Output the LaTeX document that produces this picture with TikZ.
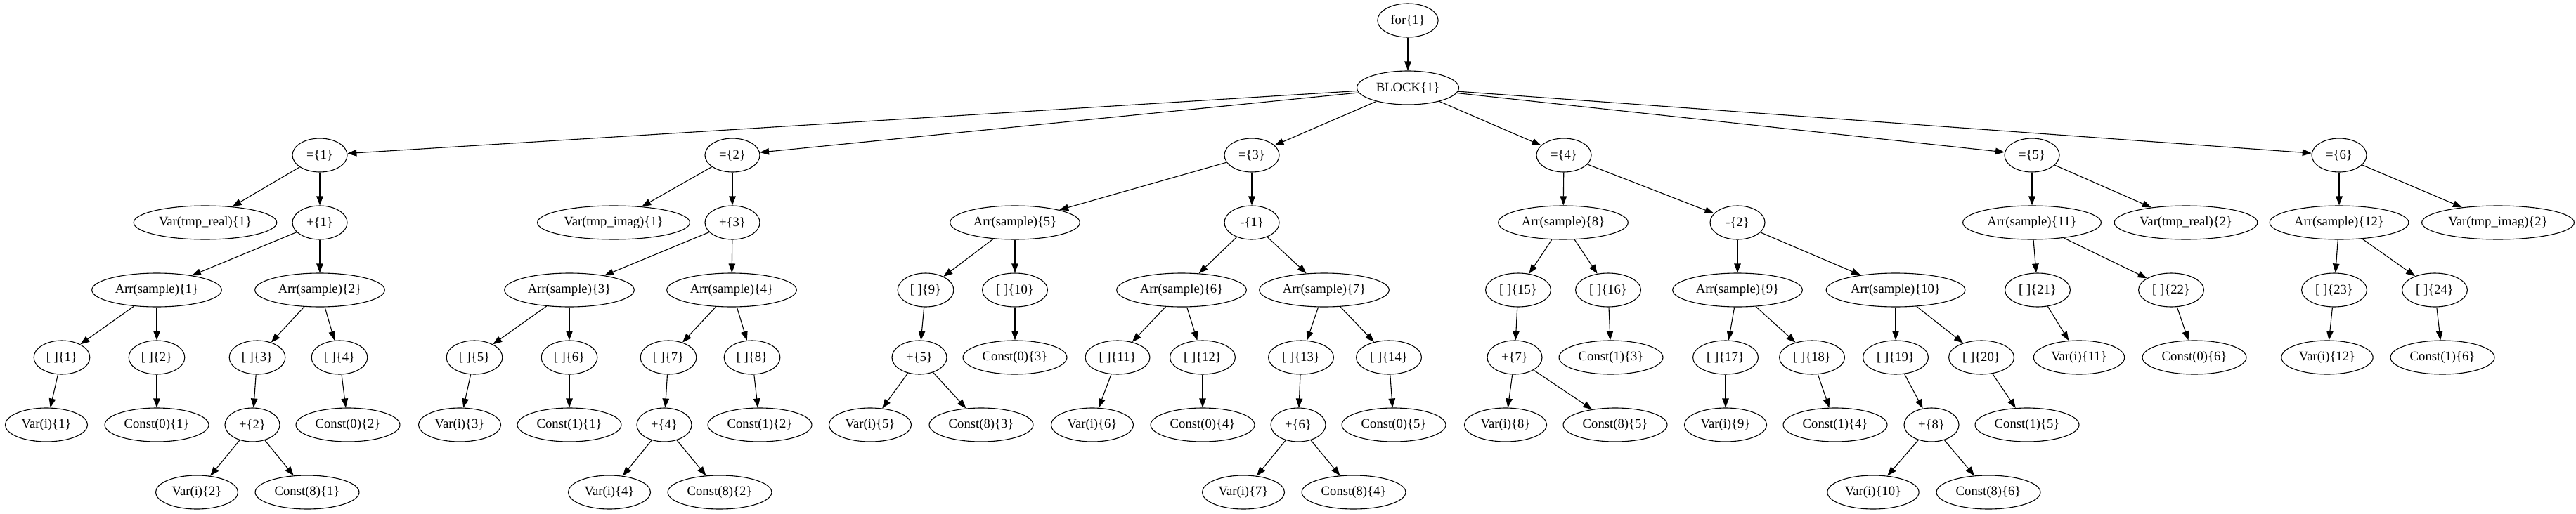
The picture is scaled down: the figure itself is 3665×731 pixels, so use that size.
\documentclass[tikz,border=0pt]{standalone}
\usepackage{fontspec}
\setmainfont{Liberation Serif}
\usepackage{tikz}
\usetikzlibrary{shapes.geometric,arrows.meta}
\tikzset{gvnode/.style={draw, ellipse, line width=1.1pt, inner xsep=6pt,
  minimum width=78pt, minimum height=48pt,
  font=\fontsize{18.67}{22}\selectfont}}
\tikzset{gvedge/.style={line width=1.1pt,
  -{Triangle[length=13pt,width=9.5pt]}}}

\begin{document}
\begin{tikzpicture}[x=1pt, y=-1pt]
\useasboundingbox[fill=white] (0,0) rectangle (3665,731);

% top
\node[gvnode] (for1) at (2003, 29) {for\{1\}};
\node[gvnode] (block1) at (2003, 125) {BLOCK\{1\}};

% first assignment
\node[gvnode] (eq1) at (455, 221) {=\{1\}};
\node[gvnode] (vreal1) at (292, 317) {Var(tmp\_real)\{1\}};
\node[gvnode] (plus1) at (455, 317) {+\{1\}};
\node[gvnode] (arr1) at (223, 413) {Arr(sample)\{1\}};
\node[gvnode] (arr2) at (455, 413) {Arr(sample)\{2\}};
\node[gvnode] (idx1) at (88, 509) {[ ]\{1\}};
\node[gvnode] (idx2) at (223, 509) {[ ]\{2\}};
\node[gvnode] (idx3) at (366, 509) {[ ]\{3\}};
\node[gvnode] (idx4) at (483, 509) {[ ]\{4\}};
\node[gvnode] (vi1) at (66, 605) {Var(i)\{1\}};
\node[gvnode] (czero1) at (223, 605) {Const(0)\{1\}};
\node[gvnode] (plus2) at (359, 605) {+\{2\}};
\node[gvnode] (czero2) at (495, 605) {Const(0)\{2\}};
\node[gvnode] (vi2) at (280, 701) {Var(i)\{2\}};
\node[gvnode] (ceight1) at (437, 701) {Const(8)\{1\}};

% second assignment
\node[gvnode] (eq2) at (1042, 221) {=\{2\}};
\node[gvnode] (vimag1) at (873, 317) {Var(tmp\_imag)\{1\}};
\node[gvnode] (plus3) at (1042, 317) {+\{3\}};
\node[gvnode] (arr3) at (810, 413) {Arr(sample)\{3\}};
\node[gvnode] (arr4) at (1041, 413) {Arr(sample)\{4\}};
\node[gvnode] (idx5) at (675, 509) {[ ]\{5\}};
\node[gvnode] (idx6) at (810, 509) {[ ]\{6\}};
\node[gvnode] (idx7) at (951, 509) {[ ]\{7\}};
\node[gvnode] (idx8) at (1070, 509) {[ ]\{8\}};
\node[gvnode] (vi3) at (654, 605) {Var(i)\{3\}};
\node[gvnode] (cone1) at (810, 605) {Const(1)\{1\}};
\node[gvnode] (plus4) at (945, 605) {+\{4\}};
\node[gvnode] (cone2) at (1081, 605) {Const(1)\{2\}};
\node[gvnode] (vi4) at (867, 701) {Var(i)\{4\}};
\node[gvnode] (ceight2) at (1024, 701) {Const(8)\{2\}};

% third assignment
\node[gvnode] (eq3) at (1781, 221) {=\{3\}};
\node[gvnode] (arr5) at (1444, 317) {Arr(sample)\{5\}};
\node[gvnode] (minus1) at (1781, 317) {-\{1\}};
\node[gvnode] (idx9) at (1317, 413) {[ ]\{9\}};
\node[gvnode] (idx10) at (1444, 413) {[ ]\{10\}};
\node[gvnode] (plus5) at (1308, 509) {+\{5\}};
\node[gvnode] (czero3) at (1444, 509) {Const(0)\{3\}};
\node[gvnode] (vi5) at (1238, 605) {Var(i)\{5\}};
\node[gvnode] (ceight3) at (1396, 605) {Const(8)\{3\}};
\node[gvnode] (arr6) at (1681, 413) {Arr(sample)\{6\}};
\node[gvnode] (arr7) at (1884, 413) {Arr(sample)\{7\}};
\node[gvnode] (idx11) at (1590, 509) {[ ]\{11\}};
\node[gvnode] (idx12) at (1711, 509) {[ ]\{12\}};
\node[gvnode] (idx13) at (1851, 509) {[ ]\{13\}};
\node[gvnode] (idx14) at (1976, 509) {[ ]\{14\}};
\node[gvnode] (vi6) at (1554, 605) {Var(i)\{6\}};
\node[gvnode] (czero4) at (1711, 605) {Const(0)\{4\}};
\node[gvnode] (plus6) at (1847, 605) {+\{6\}};
\node[gvnode] (czero5) at (1983, 605) {Const(0)\{5\}};
\node[gvnode] (vi7) at (1769, 701) {Var(i)\{7\}};
\node[gvnode] (ceight4) at (1926, 701) {Const(8)\{4\}};

% fourth assignment
\node[gvnode] (eq4) at (2225, 221) {=\{4\}};
\node[gvnode] (arr8) at (2224, 317) {Arr(sample)\{8\}};
\node[gvnode] (minus2) at (2472, 317) {-\{2\}};
\node[gvnode] (idx15) at (2160, 413) {[ ]\{15\}};
\node[gvnode] (idx16) at (2288, 413) {[ ]\{16\}};
\node[gvnode] (plus7) at (2155, 509) {+\{7\}};
\node[gvnode] (cone3) at (2292, 509) {Const(1)\{3\}};
\node[gvnode] (vi8) at (2142, 605) {Var(i)\{8\}};
\node[gvnode] (ceight5) at (2298, 605) {Const(8)\{5\}};
\node[gvnode] (arr9) at (2472, 413) {Arr(sample)\{9\}};
\node[gvnode] (arr10) at (2697, 413) {Arr(sample)\{10\}};
\node[gvnode] (idx17) at (2455, 509) {[ ]\{17\}};
\node[gvnode] (idx18) at (2578, 509) {[ ]\{18\}};
\node[gvnode] (idx19) at (2697, 509) {[ ]\{19\}};
\node[gvnode] (idx20) at (2819, 509) {[ ]\{20\}};
\node[gvnode] (vi9) at (2455, 605) {Var(i)\{9\}};
\node[gvnode] (cone4) at (2611, 605) {Const(1)\{4\}};
\node[gvnode] (plus8) at (2748, 605) {+\{8\}};
\node[gvnode] (cone5) at (2884, 605) {Const(1)\{5\}};
\node[gvnode] (vi10) at (2665, 701) {Var(i)\{10\}};
\node[gvnode] (ceight6) at (2829, 701) {Const(8)\{6\}};

% fifth assignment
\node[gvnode] (eq5) at (2891, 221) {=\{5\}};
\node[gvnode] (arr11) at (2891, 317) {Arr(sample)\{11\}};
\node[gvnode] (vreal2) at (3110, 317) {Var(tmp\_real)\{2\}};
\node[gvnode] (idx21) at (2899, 413) {[ ]\{21\}};
\node[gvnode] (idx22) at (3089, 413) {[ ]\{22\}};
\node[gvnode] (vi11) at (2958, 509) {Var(i)\{11\}};
\node[gvnode] (czero6) at (3122, 509) {Const(0)\{6\}};

% sixth assignment
\node[gvnode] (eq6) at (3328, 221) {=\{6\}};
\node[gvnode] (arr12) at (3328, 317) {Arr(sample)\{12\}};
\node[gvnode] (vimag2) at (3554, 317) {Var(tmp\_imag)\{2\}};
\node[gvnode] (idx23) at (3321, 413) {[ ]\{23\}};
\node[gvnode] (idx24) at (3464, 413) {[ ]\{24\}};
\node[gvnode] (vi12) at (3311, 509) {Var(i)\{12\}};
\node[gvnode] (cone6) at (3475, 509) {Const(1)\{6\}};

% edges
\draw[gvedge] (for1) -- (block1);
\draw[gvedge] (block1) -- (eq1);
\draw[gvedge] (block1) -- (eq2);
\draw[gvedge] (block1) -- (eq3);
\draw[gvedge] (block1) -- (eq4);
\draw[gvedge] (block1) -- (eq5);
\draw[gvedge] (block1) -- (eq6);

\draw[gvedge] (eq1) -- (vreal1);
\draw[gvedge] (eq1) -- (plus1);
\draw[gvedge] (plus1) -- (arr1);
\draw[gvedge] (plus1) -- (arr2);
\draw[gvedge] (arr1) -- (idx1);
\draw[gvedge] (arr1) -- (idx2);
\draw[gvedge] (arr2) -- (idx3);
\draw[gvedge] (arr2) -- (idx4);
\draw[gvedge] (idx1) -- (vi1);
\draw[gvedge] (idx2) -- (czero1);
\draw[gvedge] (idx3) -- (plus2);
\draw[gvedge] (idx4) -- (czero2);
\draw[gvedge] (plus2) -- (vi2);
\draw[gvedge] (plus2) -- (ceight1);

\draw[gvedge] (eq2) -- (vimag1);
\draw[gvedge] (eq2) -- (plus3);
\draw[gvedge] (plus3) -- (arr3);
\draw[gvedge] (plus3) -- (arr4);
\draw[gvedge] (arr3) -- (idx5);
\draw[gvedge] (arr3) -- (idx6);
\draw[gvedge] (arr4) -- (idx7);
\draw[gvedge] (arr4) -- (idx8);
\draw[gvedge] (idx5) -- (vi3);
\draw[gvedge] (idx6) -- (cone1);
\draw[gvedge] (idx7) -- (plus4);
\draw[gvedge] (idx8) -- (cone2);
\draw[gvedge] (plus4) -- (vi4);
\draw[gvedge] (plus4) -- (ceight2);

\draw[gvedge] (eq3) -- (arr5);
\draw[gvedge] (eq3) -- (minus1);
\draw[gvedge] (arr5) -- (idx9);
\draw[gvedge] (arr5) -- (idx10);
\draw[gvedge] (idx9) -- (plus5);
\draw[gvedge] (idx10) -- (czero3);
\draw[gvedge] (plus5) -- (vi5);
\draw[gvedge] (plus5) -- (ceight3);
\draw[gvedge] (minus1) -- (arr6);
\draw[gvedge] (minus1) -- (arr7);
\draw[gvedge] (arr6) -- (idx11);
\draw[gvedge] (arr6) -- (idx12);
\draw[gvedge] (arr7) -- (idx13);
\draw[gvedge] (arr7) -- (idx14);
\draw[gvedge] (idx11) -- (vi6);
\draw[gvedge] (idx12) -- (czero4);
\draw[gvedge] (idx13) -- (plus6);
\draw[gvedge] (idx14) -- (czero5);
\draw[gvedge] (plus6) -- (vi7);
\draw[gvedge] (plus6) -- (ceight4);

\draw[gvedge] (eq4) -- (arr8);
\draw[gvedge] (eq4) -- (minus2);
\draw[gvedge] (arr8) -- (idx15);
\draw[gvedge] (arr8) -- (idx16);
\draw[gvedge] (idx15) -- (plus7);
\draw[gvedge] (idx16) -- (cone3);
\draw[gvedge] (plus7) -- (vi8);
\draw[gvedge] (plus7) -- (ceight5);
\draw[gvedge] (minus2) -- (arr9);
\draw[gvedge] (minus2) -- (arr10);
\draw[gvedge] (arr9) -- (idx17);
\draw[gvedge] (arr9) -- (idx18);
\draw[gvedge] (arr10) -- (idx19);
\draw[gvedge] (arr10) -- (idx20);
\draw[gvedge] (idx17) -- (vi9);
\draw[gvedge] (idx18) -- (cone4);
\draw[gvedge] (idx19) -- (plus8);
\draw[gvedge] (idx20) -- (cone5);
\draw[gvedge] (plus8) -- (vi10);
\draw[gvedge] (plus8) -- (ceight6);

\draw[gvedge] (eq5) -- (arr11);
\draw[gvedge] (eq5) -- (vreal2);
\draw[gvedge] (arr11) -- (idx21);
\draw[gvedge] (arr11) -- (idx22);
\draw[gvedge] (idx21) -- (vi11);
\draw[gvedge] (idx22) -- (czero6);

\draw[gvedge] (eq6) -- (arr12);
\draw[gvedge] (eq6) -- (vimag2);
\draw[gvedge] (arr12) -- (idx23);
\draw[gvedge] (arr12) -- (idx24);
\draw[gvedge] (idx23) -- (vi12);
\draw[gvedge] (idx24) -- (cone6);
\end{tikzpicture}
\end{document}
